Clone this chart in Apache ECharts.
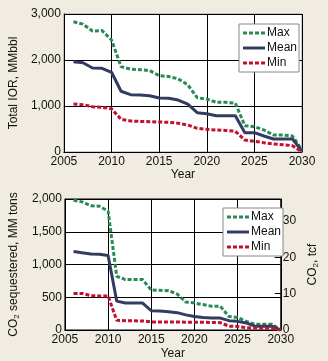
<!DOCTYPE html>
<html><head><meta charset="utf-8">
<script src="https://cdn.jsdelivr.net/npm/echarts@6/dist/echarts.min.js"></script>
<style>html,body{margin:0;padding:0;background:#f1ece1;}#c{width:328px;height:361px;}</style>
</head><body><div id="c"></div>
<script>
const years = [2006,2007,2008,2009,2010,2011,2012,2013,2014,2015,2016,2017,2018,2019,2020,2021,2022,2023,2024,2025,2026,2027,2028,2029,2030];
const iorMax  = [2830,2780,2630,2640,2435,1855,1800,1790,1770,1660,1640,1590,1460,1180,1150,1080,1080,1060,572,550,478,370,370,348,40];
const iorMean = [1963,1940,1826,1820,1733,1320,1246,1240,1224,1174,1170,1130,1043,855,833,790,790,790,420,420,348,283,283,283,20];
const iorMin  = [1043,1025,985,970,940,710,674,665,660,652,645,625,587,515,493,478,470,450,260,232,203,174,160,137,0];
const co2Max  = [1980,1956,1897,1890,1815,820,770,770,770,610,605,600,550,427,412,388,363,363,206,191,132,88,88,88,0];
const co2Mean = [1200,1180,1162,1155,1138,441,412,412,412,294,290,280,265,231,206,191,182,182,143,132,108,59,59,59,0];
const co2Min  = [559,559,525,520,520,147,143,140,138,124,124,124,122,120,118,118,115,112,59,55,35,30,28,25,0];
const xTicks = [2005,2010,2015,2020,2025,2030];
const font = "'Liberation Sans Narrow','Arial Narrow','Liberation Sans',sans-serif";
const cGreen = '#2a8a55', cNavy = '#323c60', cRed = '#c4102f';
const pairs = v => years.map((y,i)=>[y,v[i]]);
const fmt = v => v.toLocaleString('en-US');
const txt = {color:'#111', fontFamily:font, fontSize:12};
const dashIcon = 'path://M0,0h4v3h-4zM6,0h4v3h-4zM12,0h4v3h-4zM18,0h4v3h-4z';
const solidIcon = 'path://M0,0h22v3h-22z';
function xAxis(gi){return {type:'value',gridIndex:gi,min:xTicks[0],max:xTicks[xTicks.length-1],interval:5,
  name:'Year',nameLocation:'middle',nameGap:gi===0?17:18,nameTextStyle:txt,
  axisLine:{lineStyle:{color:'#000',width:1}},axisTick:{show:false},
  axisLabel:Object.assign({margin:4,formatter:v=>String(v)},txt),
  splitLine:{show:true,lineStyle:{color:'#000',width:1}}};}
function ser(name,data,color,dash,xi){return {name,type:'line',xAxisIndex:xi,yAxisIndex:xi,data:pairs(data),
  symbol:'none',lineStyle:{color,width:3,type:dash?[4,2]:'solid'},itemStyle:{color},z:3};}
const legendBase = {orient:'vertical',backgroundColor:'#fff',borderColor:'#888',borderWidth:1,
  itemWidth:22,itemHeight:3,itemGap:3,padding:[3,2,3,4],textStyle:Object.assign({},txt,{fontSize:12,padding:[0,0,0,-3]}),
  data:[{name:'Max',icon:dashIcon},{name:'Mean',icon:solidIcon},{name:'Min',icon:dashIcon}]};
const option = {
  backgroundColor:'#f1ece1',animation:false,
  grid:[{left:45,top:14,right:26,bottom:209,show:true,backgroundColor:'#fff',borderColor:'#999',borderWidth:1},
        {left:49,top:199,right:40,bottom:25,show:true,backgroundColor:'#fff',borderColor:'#000',borderWidth:1}],
  xAxis:[xAxis(0),xAxis(1)],
  yAxis:[
    {type:'value',gridIndex:0,min:0,max:3000,interval:1000,name:'Total IOR, MMbbl',nameLocation:'middle',nameGap:26,
     nameTextStyle:txt,axisLine:{show:true,lineStyle:{color:'#000'}},axisTick:{show:false},
     axisLabel:Object.assign({margin:3,formatter:fmt},txt),splitLine:{lineStyle:{color:'#000'}}},
    {type:'value',gridIndex:1,min:0,max:2000,interval:500,
     name:'{a|CO}{s|2}{a| sequestered, MM tons}',nameLocation:'middle',nameGap:22,
     nameTextStyle:Object.assign({},txt,{rich:{a:txt,s:Object.assign({},txt,{fontSize:8,verticalAlign:'bottom',padding:[6,0,0,0]})}}),
     axisLine:{show:true,lineStyle:{color:'#000'}},axisTick:{show:false},
     axisLabel:Object.assign({margin:3,formatter:fmt},txt),splitLine:{lineStyle:{color:'#000'}}},
    {type:'value',gridIndex:1,position:'right',min:0,max:36,interval:10,
     name:'{a|CO}{s|2}{a|, tcf}',nameLocation:'middle',nameGap:17,nameRotate:90,
     nameTextStyle:Object.assign({},txt,{rich:{a:txt,s:Object.assign({},txt,{fontSize:8,verticalAlign:'bottom',padding:[6,0,0,0]})}}),
     axisLine:{show:true,lineStyle:{color:'#000'}},axisTick:{show:true,inside:true,length:6,lineStyle:{color:'#000'}},
     axisLabel:Object.assign({margin:2,showMaxLabel:false},txt),splitLine:{show:false}}
  ],
  legend:[Object.assign({left:239,top:24},legendBase),Object.assign({left:223,top:208},legendBase)],
  series:[
    ser('Max',iorMax,cGreen,true,0),ser('Mean',iorMean,cNavy,false,0),ser('Min',iorMin,cRed,true,0),
    ser('Max',co2Max,cGreen,true,1),ser('Mean',co2Mean,cNavy,false,1),ser('Min',co2Min,cRed,true,1)
  ]
};
echarts.init(document.getElementById('c')).setOption(option);
</script></body></html>
